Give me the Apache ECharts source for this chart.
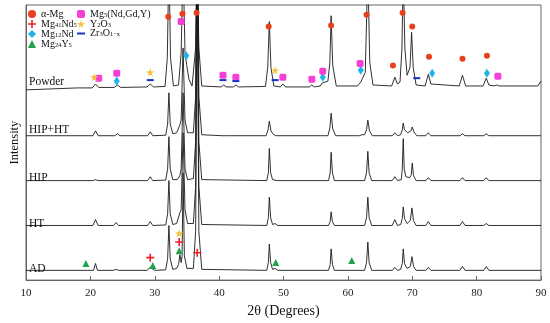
<!DOCTYPE html>
<html><head><meta charset="utf-8">
<script src="https://cdn.jsdelivr.net/npm/echarts@6/dist/echarts.min.js"></script>
<style>html,body{margin:0;padding:0;background:#fff}#c{width:550px;height:323px}</style>
</head><body><div id="c"></div>
<script>
// x tick labels
const X_TICKS = [10,20,30,40,50,60,70,80,90];
// pattern names and vertical offsets (stacking)
const PATTERNS = ['Powder','HIP+HT','HIP','HT','AD'];
const OFFSETS = [198, 148, 102, 56, 10];
// intensity points [2θ, relative intensity]
const POWDER = [[10,-3],[14,-2],[18,-1],[20.3,-1],[20.8,3],[21.3,-0.5],[23.7,-0.5],[24.2,2],[24.7,-0.5],
 [28.8,0],[29.3,3],[29.8,0],[31.6,0.5],[31.95,30],[32.2,130],[32.45,30],[32.9,1],
 [33.7,2],[34.1,35],[34.4,130],[34.7,35],[34.95,23],[35.3,8],[35.8,1],
 [36.0,2],[36.35,40],[36.6,130],[36.85,40],[37.3,1],[40.3,0],[40.7,2],[41.1,0],[42.2,0],[42.6,2],[43,0],
 [47.2,0.5],[47.55,20],[47.8,67],[48.05,20],[48.5,1],[49.5,0],[49.9,3],[50.3,0],[54.0,0],[54.4,2],[54.8,0],
 [55.7,1],[56.0,4],[56.3,3],[56.9,6],[57.2,25],[57.4,73],[57.65,22],[58.2,1],
 [61.5,1],[62.0,5],[62.3,6],[62.7,15],[63.1,120],[63.4,25],[63.9,2],[66.8,1],[67.3,10],[67.7,3],
 [68.1,5],[68.4,40],[68.6,120],[68.85,40],[69.2,12],[69.65,20],[69.9,56],[70.15,20],[70.6,2],
 [72.0,1],[72.5,13],[72.9,3],[77.3,1],[77.8,12],[78.3,1],[81.0,1],[81.5,9],[81.9,2],
 [82.7,1],[83.1,2],[83.5,1],[89.5,1],[90,6]];
const HIPHT = [[10,0],[20.4,0],[20.8,5],[21.2,0],[23.8,0],[24.2,2],[24.6,0],[28.9,0],[29.3,4],[29.7,0],
 [31.7,0.5],[32.0,12],[32.2,44],[32.4,12],[32.8,2],[33.4,3],[33.9,11],[34.1,16],[34.4,90],[34.7,16],[35.1,3],
 [36.0,3],[36.35,40],[36.6,300],[36.85,40],[37.3,1],[40.5,0],[40.8,1],[41.1,0],
 [47.3,0],[47.6,6],[47.8,15],[48.05,5],[48.4,1.5],[48.8,0],[56.9,0],[57.2,8],[57.4,23],[57.65,7],[58.1,0],
 [61.8,0],[62.2,1],[62.6,1],[62.9,6],[63.1,16],[63.35,5],[63.8,0],[66.9,0],[67.3,3],[67.7,0],
 [68.2,1],[68.45,6],[68.6,13],[68.8,6],[69.3,3],[69.8,5],[70.0,9],[70.25,4],[70.7,0],
 [72.1,0],[72.5,3],[72.9,0],[77.4,0],[77.8,2],[78.2,0],[81.1,0],[81.5,2],[81.9,0],[90,0]];
const HIP = [[10,0],[20.4,0],[20.8,1],[21.2,0],[28.9,0],[29.3,4],[29.7,0],
 [31.7,0.5],[32.0,12],[32.2,45],[32.4,12],[32.8,1],[33.5,1],[33.9,5],[34.1,12],[34.4,90],[34.7,12],[35.1,1],
 [36.0,2],[36.35,40],[36.6,300],[36.85,40],[37.3,1],
 [47.4,0],[47.65,8],[47.8,33],[48.0,8],[48.3,1],[48.6,2],[49,0],[57.0,0],[57.25,8],[57.4,29],[57.6,8],[57.9,0],
 [62.6,0],[62.9,8],[63.1,30],[63.3,8],[63.7,0],[66.9,0],[67.3,4],[67.7,0],
 [68.3,1],[68.45,12],[68.6,43],[68.75,12],[69.0,4],[69.6,3],[69.85,6],[70.0,18],[70.2,5],[70.6,0],
 [72.1,0],[72.5,3],[72.9,0],[77.4,0],[77.8,3],[78.2,0],[81.1,0],[81.5,3],[81.9,0],[90,0]];
const HT = [[10,0],[19,0],[19.3,1],[19.6,0],[20.4,0],[20.8,6],[21.2,0],[23.6,0],[24.0,3],[24.4,0],[28.9,0],[29.3,4],[29.7,0],
 [31.7,0.5],[32.0,12],[32.2,46],[32.4,12],[32.8,1],[33.4,2],[33.9,13],[34.1,16],[34.4,95],[34.7,16],[35.1,2],
 [36.0,2],[36.35,40],[36.6,300],[36.85,40],[37.3,1],
 [47.4,0],[47.65,8],[47.8,29],[48.0,8],[48.3,1],[48.7,2],[49.1,0],[57.0,0],[57.25,4],[57.4,14],[57.6,4],[57.9,0],
 [60.5,0],[60.8,1],[61.1,0],[62.6,0],[62.9,8],[63.1,29],[63.3,8],[63.7,0],[66.9,0],[67.3,6],[67.7,0],
 [68.2,1],[68.45,7],[68.6,19],[68.8,7],[69.2,2],[69.7,5],[69.95,18],[70.2,5],[70.6,0],
 [72.1,0],[72.5,4],[72.9,0],[77.4,0],[77.8,4],[78.2,0],[81.1,0],[81.5,2],[81.9,0],[90,0]];
const AD = [[10,0],[18.9,0],[19.2,1],[19.5,0],[20.5,0],[20.8,7],[21.1,0],[23.6,0],[24,1],[24.4,0],[28.8,0],[29.3,3],[29.6,4],[30,0],
 [31.7,0.5],[32.0,12],[32.2,46],[32.4,12],[32.8,1],[33.4,2],[33.7,6],[33.9,16],[34.1,8],[34.25,15],[34.4,100],[34.6,15],[35.0,2],
 [36.0,2],[36.35,40],[36.6,300],[36.85,40],[37.3,1],
 [47.4,0],[47.65,8],[47.8,27],[48.0,8],[48.3,1],[48.7,2],[49.1,0],[57.0,0],[57.25,6],[57.4,22],[57.6,6],[57.9,0],
 [60.3,0],[60.6,2],[60.9,0],[62.6,0],[62.9,8],[63.1,29],[63.3,8],[63.7,0],[66.9,0],[67.3,3],[67.7,0],
 [68.2,1],[68.45,7],[68.6,22],[68.8,7],[69.2,2],[69.7,4],[69.95,14],[70.2,4],[70.6,0],
 [72.1,0],[72.5,3],[72.9,0],[77.4,0],[77.8,4],[78.2,0],[81.1,0],[81.5,4],[81.9,0],[90,0]];
const TRACES = [POWDER, HIPHT, HIP, HT, AD];

// phase markers [2θ, plotted height]
const MG_ALPHA = [[32.1,270],[34.3,273],[36.5,274],[47.7,260],[57.4,261],[62.9,272],[67.0,220],[68.5,274],[70.0,260],[72.6,229],[77.8,227],[81.6,230]];
const MG41ND5 = [[29.3,23],[33.8,39],[36.6,28]];
const MG12ND = [[24.1,204],[34.9,230],[56.1,208],[62.0,215],[73.1,212],[81.6,212]];
const MG24Y5 = [[19.3,17],[29.7,15],[33.8,30],[48.8,18],[60.6,20]];
const MG5 = [[21.3,207],[24.1,212],[34.1,265],[40.6,210],[42.6,208],[49.9,208],[54.4,206],[56.1,214],[61.9,222],[83.3,209]];
const Y2O3 = [[20.6,208],[29.3,213],[48.7,215],[33.8,48]];
const ZR3O = [[29.3,205],[40.6,205],[42.6,204],[48.7,205],[70.7,207]];

const PHASES = [
 {name:'α-Mg', data:MG_ALPHA, symbol:'circle', size:6, color:'#e8401c'},
 {name:'Mg41Nd5', data:MG41ND5, symbol:'path://M-1,-5 H1 V-1 H5 V1 H1 V5 H-1 V1 H-5 V-1 H-1 Z', size:8, color:'#ee1c24'},
 {name:'Mg12Nd', data:MG12ND, symbol:'diamond', size:[6,9], color:'#1eb4ea'},
 {name:'Mg24Y5', data:MG24Y5, symbol:'triangle', size:7, color:'#1fa24a'},
 {name:'Mg5(Nd,Gd,Y)', data:MG5, symbol:'roundRect', size:7, color:'#f53fd6'},
 {name:'Y2O3', data:Y2O3, symbol:'path://M0,-5 L1.2,-1.6 L4.8,-1.5 L1.9,0.6 L2.9,4 L0,2 L-2.9,4 L-1.9,0.6 L-4.8,-1.5 L-1.2,-1.6 Z', size:8, color:'#f7c13a'},
 {name:'Zr3O1-x', data:ZR3O, symbol:'rect', size:[7,2], color:'#1a2fcf'}
];
const RICH = {
 'α-Mg':'{a|α-Mg}', 'Mg41Nd5':'{a|Mg}{b|41}{a|Nd}{b|5}', 'Mg12Nd':'{a|Mg}{b|12}{a|Nd}',
 'Mg24Y5':'{a|Mg}{b|24}{a|Y}{b|5}', 'Mg5(Nd,Gd,Y)':'{a|Mg}{b|5}{a|(Nd,Gd,Y)}',
 'Y2O3':'{a|Y}{b|2}{a|O}{b|3}', 'Zr3O1-x':'{a|Zr}{b|3}{a|O}{b|1−x}'
};
const LABEL_Y = [83, 131, 179, 225, 270];

const FONT = 'Liberation Serif';
const chart = echarts.init(document.getElementById('c'), null, {renderer:'canvas'});
const legendText = {fontFamily:FONT, color:'#111', rich:{
  a:{fontFamily:FONT, fontSize:10, lineHeight:9, color:'#111'},
  b:{fontFamily:FONT, fontSize:6.5, lineHeight:4, verticalAlign:'bottom', color:'#111'}}};
const legendBase = {orient:'vertical', padding:0, itemGap:0, itemWidth:8, itemHeight:8,
  textStyle:legendText, formatter:n=>RICH[n], selectedMode:false};
const series = [];
TRACES.forEach((t,i)=>{
  series.push({name:PATTERNS[i], type:'line', showSymbol:false, symbol:'none', clip:true, z:2,
    lineStyle:{color:'#1a1a1a', width:0.9}, data:t.map(p=>[p[0], p[1]+OFFSETS[i]])});
});
PHASES.forEach(p=>{
  series.push({name:p.name, type:'scatter', symbol:p.symbol, symbolSize:p.size, z:5,
    itemStyle:{color:p.color, opacity:1}, data:p.data});
});
chart.setOption({
  animation:false,
  backgroundColor:'#fff',
  grid:{left:26, right:9, top:5, bottom:36, show:true, borderColor:'#666', borderWidth:1},
  xAxis:{type:'value', min:10, max:90, interval:10,
    name:'2θ (Degrees)', nameLocation:'middle', nameGap:21,
    nameTextStyle:{fontFamily:FONT, fontSize:14, color:'#111'},
    axisLine:{show:true, lineStyle:{color:'#666', width:1}},
    axisTick:{show:true, inside:true, length:4, lineStyle:{color:'#666'}},
    axisLabel:{fontFamily:FONT, fontSize:11, color:'#222', margin:8, formatter:v=>X_TICKS.includes(v)?String(v):''},
    splitLine:{show:false}},
  yAxis:{type:'value', min:0, max:282, name:'Intensity', nameLocation:'middle', nameGap:5, nameRotate:90,
    nameTextStyle:{fontFamily:FONT, fontSize:12.5, color:'#111'},
    axisLine:{show:true, lineStyle:{color:'#666'}}, axisTick:{show:false}, axisLabel:{show:false}, splitLine:{show:false}},
  legend:[
    Object.assign({}, legendBase, {left:28, top:9, data:[
      {name:'α-Mg', icon:'circle'},
      {name:'Mg41Nd5', icon:PHASES[1].symbol},
      {name:'Mg12Nd', icon:'diamond'},
      {name:'Mg24Y5', icon:'triangle'}]}),
    Object.assign({}, legendBase, {left:77, top:9, data:[
      {name:'Mg5(Nd,Gd,Y)', icon:'roundRect'},
      {name:'Y2O3', icon:PHASES[5].symbol}]}),
    Object.assign({}, legendBase, {left:77, top:28.5, itemHeight:2, data:[{name:'Zr3O1-x', icon:'rect'}]})
  ],
  graphic: PATTERNS.map((n,i)=>({type:'text', left:29, top:LABEL_Y[i]-7, z:10,
    style:{text:n, fontFamily:FONT, fontSize:11.5, fill:'#111'}})),
  series
});
</script></body></html>
